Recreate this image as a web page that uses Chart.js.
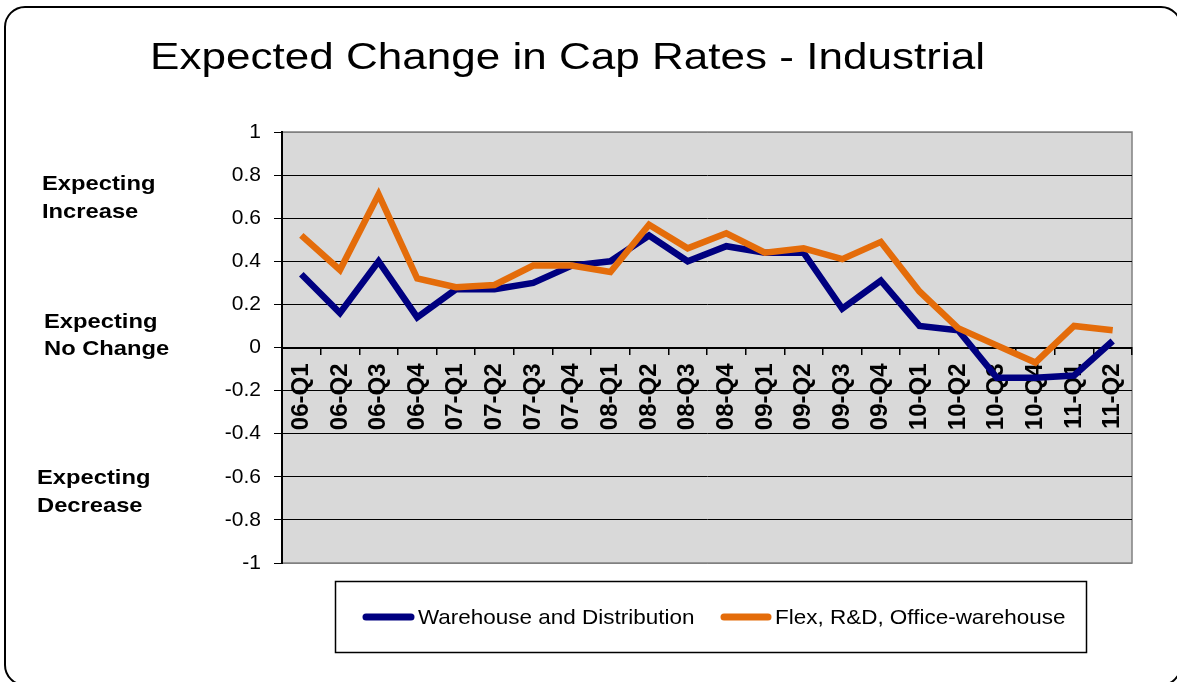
<!DOCTYPE html>
<html>
<head>
<meta charset="utf-8">
<title>Expected Change in Cap Rates - Industrial</title>
<script src="https://cdn.jsdelivr.net/npm/chart.js@4.4.1/dist/chart.umd.min.js"></script>
<style>
    html, body { margin: 0; padding: 0; background: #ffffff; }
    #wrap { width: 1177px; height: 682px; }
</style>
</head>
<body>
<div id="wrap"><canvas id="capChart" width="1177" height="682"></canvas></div>
<script>
const quarters = [
    '06-Q1', '06-Q2', '06-Q3', '06-Q4', '07-Q1', '07-Q2', '07-Q3', '07-Q4',
    '08-Q1', '08-Q2', '08-Q3', '08-Q4', '09-Q1', '09-Q2', '09-Q3', '09-Q4',
    '10-Q1', '10-Q2', '10-Q3', '10-Q4', '11-Q1', '11-Q2'
];
const warehouse = [0.34, 0.16, 0.40, 0.14, 0.27, 0.27, 0.30, 0.38, 0.40, 0.52, 0.40,
    0.47, 0.44, 0.44, 0.18, 0.31, 0.10, 0.08, -0.14, -0.14, -0.13, 0.03];
const flex = [0.52, 0.36, 0.71, 0.32, 0.28, 0.29, 0.38, 0.38, 0.35, 0.57, 0.46,
    0.53, 0.44, 0.46, 0.41, 0.49, 0.26, 0.09, 0.01, -0.07, 0.10, 0.08];
const seriesNames = ['Warehouse and Distribution', 'Flex, R&D, Office-warehouse'];
const seriesColors = ['#000080', '#E46C0A'];
const sideNotes = [['Expecting', 'Increase'], ['Expecting', 'No Change'], ['Expecting', 'Decrease']];
const chartTitle = 'Expected Change in Cap Rates - Industrial';

const FONT = '"Liberation Sans", Arial, sans-serif';

// text in the reference looks a bit wider than plain Arial
function wideText(ctx, text, x, y, sx) {
    ctx.save();
    ctx.translate(x, y);
    ctx.scale(sx, 1);
    ctx.fillText(text, 0, 0);
    ctx.restore();
}

const decorations = {
    id: 'decorations',
    beforeDraw(chart) {
        const { ctx, chartArea: a } = chart;
        ctx.save();
        ctx.fillStyle = '#ffffff';
        ctx.fillRect(0, 0, chart.width, chart.height);
        ctx.fillStyle = '#d9d9d9';
        ctx.fillRect(a.left, a.top, a.right - a.left, a.bottom - a.top);
        ctx.strokeStyle = '#808080';
        ctx.lineWidth = 1.5;
        ctx.strokeRect(a.left, a.top, a.right - a.left, a.bottom - a.top);
        ctx.restore();
    },
    afterDraw(chart) {
        const ctx = chart.ctx;
        ctx.save();
        ctx.fillStyle = '#000';

        // title, stretched to the reference width
        ctx.font = '37px ' + FONT;
        ctx.textBaseline = 'alphabetic';
        ctx.textAlign = 'left';
        const tw = ctx.measureText(chartTitle).width;
        wideText(ctx, chartTitle, 150, 69, 835 / tw);

        // notes left of the y axis
        ctx.font = 'bold 21px ' + FONT;
        ctx.textBaseline = 'middle';
        const noteSpots = [[42, 184, 212], [44, 322, 349], [37, 478, 506]];
        sideNotes.forEach((lines, i) => {
            const [x, y1, y2] = noteSpots[i];
            wideText(ctx, lines[0], x, y1, 1.13);
            wideText(ctx, lines[1], x, y2, 1.13);
        });

        // legend box
        ctx.strokeStyle = '#000';
        ctx.lineWidth = 1.5;
        ctx.strokeRect(335.5, 581.5, 751, 71);
        ctx.font = '21px ' + FONT;
        const legendX = [[366, 411, 418], [724, 768, 775]];
        seriesNames.forEach((name, i) => {
            const [l1, l2, tx] = legendX[i];
            ctx.strokeStyle = seriesColors[i];
            ctx.lineWidth = 7;
            ctx.lineCap = 'round';
            ctx.beginPath();
            ctx.moveTo(l1, 617);
            ctx.lineTo(l2, 617);
            ctx.stroke();
            ctx.fillStyle = '#000';
            wideText(ctx, name, tx, 618, 1.07);
        });

        // rounded outer frame
        ctx.strokeStyle = '#000';
        ctx.lineWidth = 2;
        ctx.lineCap = 'butt';
        ctx.beginPath();
        ctx.roundRect(5, 7, 1176, 678, 20);
        ctx.stroke();
        ctx.restore();
    }
};

const ctx = document.getElementById('capChart');
new Chart(ctx, {
    type: 'line',
    data: {
        labels: quarters,
        datasets: [
            {
                label: seriesNames[0],
                data: warehouse,
                borderColor: seriesColors[0],
                backgroundColor: seriesColors[0],
                borderWidth: 6.5,
                pointRadius: 0,
                tension: 0,
                order: 2
            },
            {
                label: seriesNames[1],
                data: flex,
                borderColor: seriesColors[1],
                backgroundColor: seriesColors[1],
                borderWidth: 6.5,
                pointRadius: 0,
                tension: 0,
                order: 1
            }
        ]
    },
    options: {
        responsive: false,
        devicePixelRatio: 1,
        animation: false,
        layout: {
            padding: { top: 132, right: 45, bottom: 119, left: 0 }
        },
        plugins: {
            legend: { display: false },
            title: { display: false },
            tooltip: { enabled: false }
        },
        scales: {
            x: {
                position: { y: 0 },
                offset: true,
                ticks: {
                    color: '#000',
                    font: { family: FONT, size: 24, weight: 'bold' },
                    minRotation: 90,
                    maxRotation: 90,
                    autoSkip: false,
                    padding: 10
                },
                grid: {
                    offset: true,
                    drawOnChartArea: false,
                    tickLength: 6,
                    color: '#000',
                    lineWidth: 1.5
                },
                border: { color: '#000', width: 2 }
            },
            y: {
                min: -1,
                max: 1,
                ticks: {
                    stepSize: 0.2,
                    color: '#000',
                    font: { family: FONT, size: 21 },
                    padding: 13,
                    callback: v => String(Math.round(v * 10) / 10)
                },
                grid: {
                    color: c => (Math.abs(c.tick.value) > 0.99 ? '#808080' : '#000'),
                    lineWidth: 1,
                    tickLength: 8,
                    tickColor: '#000'
                },
                border: { color: '#000', width: 2 },
                afterFit: scale => { scale.width = 282; }
            }
        }
    },
    plugins: [decorations]
});
</script>
</body>
</html>
